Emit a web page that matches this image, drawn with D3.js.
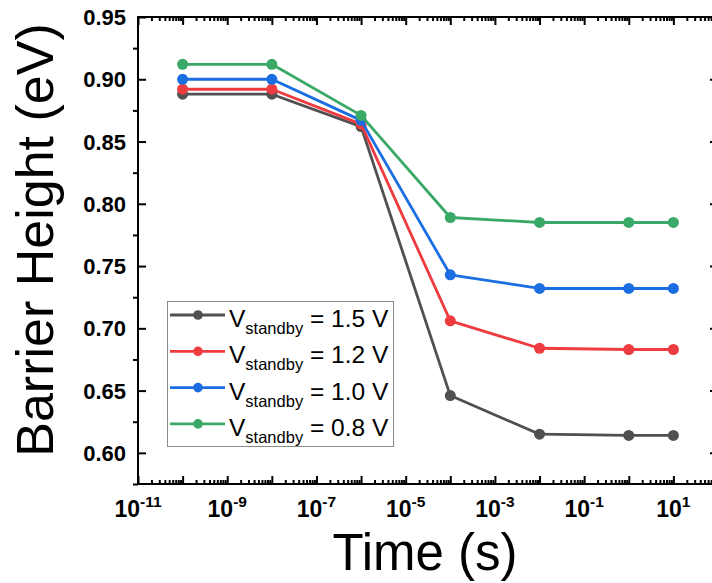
<!DOCTYPE html>
<html>
<head>
<meta charset="utf-8">
<script src="https://cdn.jsdelivr.net/npm/d3@7"></script>
<style>
  html, body { margin: 0; padding: 0; background: #fff; }
  svg { display: block; font-family: Arial, "Liberation Sans", sans-serif; }
</style>
</head>
<body>
<svg id="chart" width="712" height="583"></svg>
<script>
// Standby time (s) at which barrier height was extracted
const times = [1e-10, 1e-8, 1e-6, 1e-4, 1e-2, 1, 10];

// Barrier height (eV) for each standby voltage
const standbyVoltages = ["1.5", "1.2", "1.0", "0.8"];
const height15 = [0.888, 0.888, 0.862, 0.646, 0.615, 0.614, 0.614];
const height12 = [0.892, 0.892, 0.864, 0.706, 0.684, 0.683, 0.683];
const height10 = [0.900, 0.900, 0.867, 0.743, 0.732, 0.732, 0.732];
const height08 = [0.912, 0.912, 0.871, 0.789, 0.785, 0.785, 0.785];
const seriesColors = ["#505050", "#ee3b3f", "#1b6de2", "#3aa866"];

// Axis ticks
const yTicks = [0.60, 0.65, 0.70, 0.75, 0.80, 0.85, 0.90, 0.95];
const xLabelExponents = [-11, -9, -7, -5, -3, -1, 1];

const series = [height15, height12, height10, height08].map((vals, i) => ({
  label: standbyVoltages[i],
  color: seriesColors[i],
  points: vals.map((v, j) => ({ t: times[j], v }))
}));

const svg = d3.select("#chart");
const plotL = 138, plotR = 718, plotT = 17, plotB = 484;

const x = d3.scaleLog().domain([1e-11, 1e2]).range([plotL, plotR]);
const y = d3.scaleLinear().domain([0.575, 0.95]).range([plotB, plotT]);

// Tick positions on the log axis: every decade plus 2..9 minors
const decades = d3.range(-11, 3).map(e => Math.pow(10, e));
const minors = [];
d3.range(-11, 2).forEach(e => {
  for (let k = 2; k <= 9; k++) minors.push(k * Math.pow(10, e));
});
const yMinors = d3.range(0, 8).map(i => 0.575 + i * 0.05);

// bottom axis (ticks point inward)
svg.append("g").attr("transform", `translate(0,${plotB})`)
  .call(d3.axisBottom(x).tickValues(decades).tickSize(-8).tickFormat(""))
  .call(g => g.select(".domain").remove());
svg.append("g").attr("transform", `translate(0,${plotB})`)
  .call(d3.axisBottom(x).tickValues(minors).tickSize(-4).tickFormat(""))
  .call(g => g.select(".domain").remove());
// top axis
svg.append("g").attr("transform", `translate(0,${plotT})`)
  .call(d3.axisTop(x).tickValues(decades).tickSize(-8).tickFormat(""))
  .call(g => g.select(".domain").remove());
svg.append("g").attr("transform", `translate(0,${plotT})`)
  .call(d3.axisTop(x).tickValues(minors).tickSize(-4).tickFormat(""))
  .call(g => g.select(".domain").remove());
// left axis
svg.append("g").attr("transform", `translate(${plotL},0)`)
  .call(d3.axisLeft(y).tickValues(yTicks).tickSize(-8).tickFormat(""))
  .call(g => g.select(".domain").remove());
svg.append("g").attr("transform", `translate(${plotL},0)`)
  .call(d3.axisLeft(y).tickValues(yMinors).tickSize(5).tickFormat(""))
  .call(g => g.select(".domain").remove());
// right axis
svg.append("g").attr("transform", `translate(${plotR},0)`)
  .call(d3.axisRight(y).tickValues(yTicks).tickSize(-8).tickFormat(""))
  .call(g => g.select(".domain").remove());

svg.selectAll(".tick line").attr("stroke", "#000").attr("stroke-width", 2);

// frame
svg.append("rect")
  .attr("x", plotL).attr("y", plotT)
  .attr("width", plotR - plotL).attr("height", plotB - plotT)
  .attr("fill", "none").attr("stroke", "#000").attr("stroke-width", 2);

// y tick labels
svg.append("g").selectAll("text").data(yTicks).join("text")
  .attr("x", plotL - 12).attr("y", d => y(d) + 8)
  .attr("text-anchor", "end")
  .attr("font-size", 22).attr("font-weight", "bold")
  .text(d => d.toFixed(2));

// x tick labels: 10 with superscript exponent
const xl = svg.append("g").selectAll("text").data(xLabelExponents).join("text")
  .attr("x", d => x(Math.pow(10, d)))
  .attr("y", plotB + 33)
  .attr("text-anchor", "middle")
  .attr("font-size", 23).attr("font-weight", "bold");
xl.append("tspan").text("10");
xl.append("tspan").attr("font-size", 15.5).attr("dy", -10).text(d => d < 0 ? "-" + Math.abs(d) : String(d));

// axis titles
svg.append("text")
  .attr("transform", `translate(53,240) rotate(-90)`)
  .attr("text-anchor", "middle")
  .attr("font-size", 52)
  .text("Barrier Height (eV)");
svg.append("text")
  .attr("x", 425).attr("y", 570)
  .attr("text-anchor", "middle")
  .attr("font-size", 51)
  .text("Time (s)");

// data lines and markers
const line = d3.line().x(d => x(d.t)).y(d => y(d.v));
const sg = svg.append("g").selectAll("g").data(series).join("g");
sg.append("path")
  .attr("d", d => line(d.points))
  .attr("fill", "none")
  .attr("stroke", d => d.color)
  .attr("stroke-width", 2.8)
  .attr("stroke-linejoin", "round");
sg.selectAll("circle").data(d => d.points.map(p => ({ ...p, color: d.color }))).join("circle")
  .attr("cx", d => x(d.t)).attr("cy", d => y(d.v))
  .attr("r", 5.5)
  .attr("fill", d => d.color);

// legend
const legend = svg.append("g");
legend.append("rect")
  .attr("x", 167.5).attr("y", 301.5)
  .attr("width", 226).attr("height", 145)
  .attr("fill", "#fff").attr("stroke", "#8a8a8a").attr("stroke-width", 1);
const rows = legend.selectAll("g.row").data(series).join("g")
  .attr("class", "row")
  .attr("transform", (d, i) => `translate(0,${315 + i * 36.3})`);
rows.append("line")
  .attr("x1", 170).attr("x2", 225).attr("y1", 0).attr("y2", 0)
  .attr("stroke", d => d.color).attr("stroke-width", 2.8);
rows.append("circle")
  .attr("cx", 198).attr("cy", 0).attr("r", 4.8)
  .attr("fill", d => d.color);
const lt = rows.append("text")
  .attr("x", 229).attr("y", 12)
  .attr("font-size", 24.5);
lt.append("tspan").text("V");
lt.append("tspan").attr("font-size", 16.5).attr("dy", 7).text("standby");
lt.append("tspan").attr("dy", -7).text(d => ` = ${d.label} V`);
</script>
</body>
</html>
